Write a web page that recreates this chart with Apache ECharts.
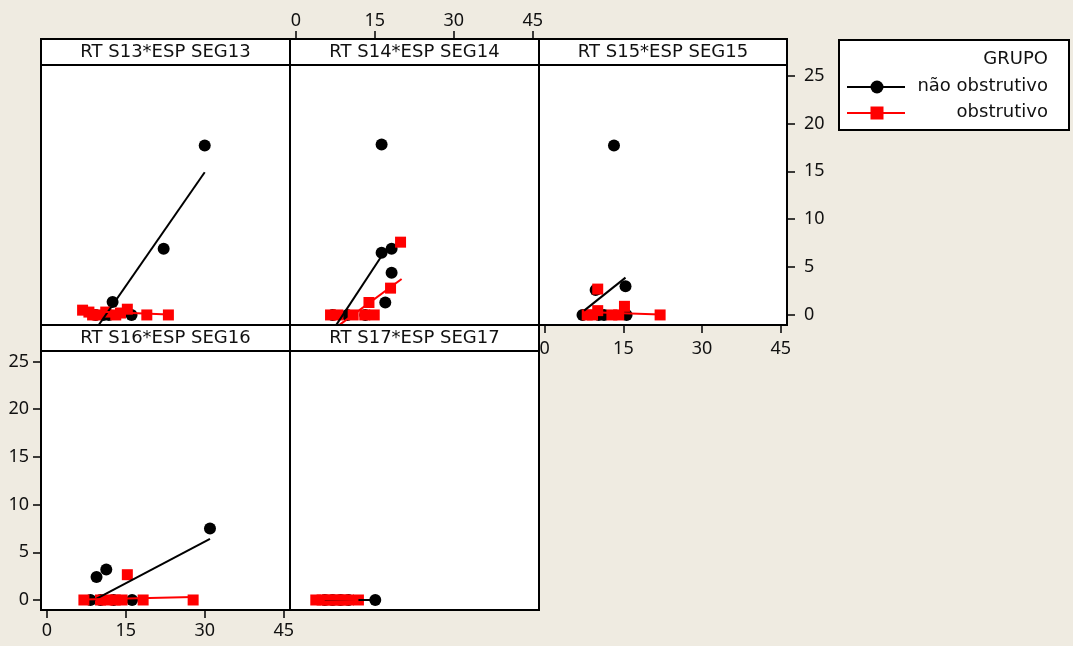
<!DOCTYPE html>
<html><head><meta charset="utf-8">
<script src="https://cdn.jsdelivr.net/npm/echarts@6/dist/echarts.min.js"></script>
<style>html,body{margin:0;padding:0;background:#EFEBE1;} #c{width:1073px;height:646px;}</style>
</head><body><div id="c"></div>
<script>
const panelTitles = ['RT S13*ESP SEG13','RT S14*ESP SEG14','RT S15*ESP SEG15','RT S16*ESP SEG16','RT S17*ESP SEG17'];
const groupNames = ['não obstrutivo','obstrutivo'];
const legendTitle = 'GRUPO';
const xTickMin = 0, xTickMax = 45, xTickStep = 15;
const yTickMin = 0, yTickMax = 25, yTickStep = 5;

// SEG13
const nao13 = [[30.0,17.7],[22.2,6.9],[12.5,1.35],[16.1,0],[9.3,0],[10.8,0],[11.8,0]];
const obs13 = [[6.8,0.5],[8.0,0.3],[8.7,0],[9.6,0],[11.2,0.3],[13.1,0],[14.0,0.2],[15.3,0.6],[19.0,0],[23.1,0]];
const fitNao13 = [[9.3,-1.5],[30.0,14.9]];
const fitObs13 = [[6.8,0.4],[23.1,0.05]];
// SEG14
const nao14 = [[16.3,17.8],[16.3,6.5],[18.2,6.9],[18.2,4.4],[17.0,1.3],[9.8,0],[7.0,0],[13.2,0]];
const obs14 = [[19.9,7.6],[18.0,2.8],[13.9,1.3],[6.6,0],[8.0,0],[10.9,0],[13.1,0],[14.9,0]];
const fitNao14 = [[7.7,-1.04],[16.3,6.15]];
const fitObs14 = [[8.3,-1.04],[20.1,3.75]];
// SEG15
const nao15 = [[13.2,17.7],[15.4,3.0],[9.7,2.6],[7.2,0],[10.3,0],[11.3,0],[15.6,0]];
const obs15 = [[10.1,2.7],[15.2,0.9],[10.1,0.45],[8.1,0],[9.1,0],[12.8,0],[14.1,0],[22.0,0]];
const fitNao15 = [[7.5,0.45],[15.4,3.9]];
const fitObs15 = [[7.9,0.3],[22.0,0.05]];
// SEG16
const nao16 = [[31.0,7.5],[9.45,2.4],[11.3,3.2],[16.2,0],[8.3,0],[10.2,0],[12.7,0]];
const obs16 = [[15.3,2.65],[7.05,0],[10.2,0],[11.5,0],[13.0,0],[14.3,0],[18.3,0],[27.8,0]];
const fitNao16 = [[8.3,-0.2],[31.0,6.4]];
const fitObs16 = [[7.05,0.05],[27.8,0.3]];
// SEG17
const nao17 = [[5.5,0],[7.0,0],[8.5,0],[10.0,0],[15.1,0]];
const obs17 = [[3.8,0],[5.0,0],[6.0,0],[7.0,0],[8.0,0],[9.0,0],[10.0,0],[11.9,0]];
const fitNao17 = [[5.5,0],[15.1,0]];
const fitObs17 = [[3.8,0.05],[11.9,0]];

const naoAll = [nao13,nao14,nao15,nao16,nao17];
const obsAll = [obs13,obs14,obs15,obs16,obs17];
const fitNaoAll = [fitNao13,fitNao14,fitNao15,fitNao16,fitNao17];
const fitObsAll = [fitObs13,fitObs14,fitObs15,fitObs16,fitObs17];

const X_MIN = -1.1, X_MAX = 46.2, Y_MIN = -1.05, Y_MAX = 26.1;
const BLACK = '#000000', RED = '#FF0000';
const tickFont = {fontFamily:'"Noto Sans"', fontSize:18, color:'#111'};
const txtFont = '18px "DejaVu Sans"';

const gridBoxes = [
  {left:41, top:65, width:249, height:260},
  {left:290, top:65, width:249, height:260},
  {left:539, top:65, width:248, height:260},
  {left:41, top:351, width:249, height:259},
  {left:290, top:351, width:249, height:259}
];

const grids = [], xAxes = [], yAxes = [], series = [];
function hiddenAxis(gi, min, max) {
  return {type:'value', gridIndex:gi, show:false, min:min, max:max, splitLine:{show:false}, axisLine:{show:false, onZero:false}};
}
// data panels
gridBoxes.forEach((g, i) => {
  grids.push(Object.assign({show:true, backgroundColor:'#fff', borderColor:'#000', borderWidth:2}, g));
  xAxes.push(hiddenAxis(i, X_MIN, X_MAX));
  yAxes.push(hiddenAxis(i, Y_MIN, Y_MAX));
});

// axis-only grids aligned to the data scale of a panel
function tickAxis(gi, min, max, step, position, margin, offset) {
  return {type:'value', gridIndex:gi, min:min, max:max, interval:step, position:position, offset:offset || 0,
    splitLine:{show:false}, axisLine:{show:false, onZero:false},
    axisTick:{show:true, inside:false, length:8, lineStyle:{color:'#000', width:1.5}},
    axisLabel:Object.assign({margin:margin}, tickFont)};
}
function addXAxisFor(panel, position, margin, offset) {
  const g = gridBoxes[panel];
  const k = g.width / (X_MAX - X_MIN);
  const gi = grids.length;
  grids.push({show:false, left:g.left + (xTickMin - X_MIN) * k, width:(xTickMax - xTickMin) * k, top:g.top, height:g.height});
  xAxes.push(tickAxis(gi, xTickMin, xTickMax, xTickStep, position, margin, offset));
  yAxes.push(hiddenAxis(gi, 0, 1));
}
function addYAxisFor(panel, position, margin) {
  const g = gridBoxes[panel];
  const k = g.height / (Y_MAX - Y_MIN);
  const gi = grids.length;
  grids.push({show:false, left:g.left, width:g.width, top:g.top + (Y_MAX - yTickMax) * k, height:(yTickMax - yTickMin) * k});
  xAxes.push(hiddenAxis(gi, 0, 1));
  yAxes.push(tickAxis(gi, yTickMin, yTickMax, yTickStep, position, margin, 0));
}
addXAxisFor(1, 'top', 9, 26);
addXAxisFor(2, 'bottom', 15, 0);
addXAxisFor(3, 'bottom', 12, 0);
addYAxisFor(2, 'right', 17);
addYAxisFor(3, 'left', 12);

for (let i = 0; i < 5; i++) {
  series.push({type:'scatter', name:groupNames[0], xAxisIndex:i, yAxisIndex:i, data:naoAll[i],
    symbol:'circle', symbolSize:12, itemStyle:{color:BLACK, opacity:1}, silent:true});
  series.push({type:'line', name:groupNames[0]+' fit', xAxisIndex:i, yAxisIndex:i, data:fitNaoAll[i],
    showSymbol:false, symbol:'none', lineStyle:{color:BLACK, width:2}, clip:true, silent:true});
  series.push({type:'scatter', name:groupNames[1], xAxisIndex:i, yAxisIndex:i, data:obsAll[i],
    symbol:'rect', symbolSize:11, itemStyle:{color:RED, opacity:1}, silent:true});
  series.push({type:'line', name:groupNames[1]+' fit', xAxisIndex:i, yAxisIndex:i, data:fitObsAll[i],
    showSymbol:false, symbol:'none', lineStyle:{color:RED, width:2}, clip:true, silent:true});
}

const graphics = [];
gridBoxes.forEach((g, i) => {
  const sy = g.top - 26;
  graphics.push({type:'rect', shape:{x:g.left, y:sy, width:g.width, height:26},
    style:{fill:'#fff', stroke:'#000', lineWidth:2}, z:10});
  graphics.push({type:'text', x:g.left + g.width/2, y:sy + 13,
    style:{text:panelTitles[i], font:txtFont, fill:'#111', align:'center', verticalAlign:'middle'}, z:11});
});
// legend
graphics.push({type:'rect', shape:{x:839, y:40, width:230, height:90},
  style:{fill:'#fff', stroke:'#000', lineWidth:2}, z:10});
graphics.push({type:'text', x:1048, y:59, style:{text:legendTitle, font:txtFont, fill:'#111', align:'right', verticalAlign:'middle'}, z:11});
graphics.push({type:'line', shape:{x1:847, y1:87, x2:905, y2:87}, style:{stroke:BLACK, lineWidth:2}, z:11});
graphics.push({type:'circle', shape:{cx:877, cy:87, r:6.5}, style:{fill:BLACK}, z:12});
graphics.push({type:'text', x:1048, y:86, style:{text:groupNames[0], font:txtFont, fill:'#111', align:'right', verticalAlign:'middle'}, z:11});
graphics.push({type:'line', shape:{x1:847, y1:113, x2:905, y2:113}, style:{stroke:RED, lineWidth:2}, z:11});
graphics.push({type:'rect', shape:{x:870.5, y:106.5, width:13, height:13}, style:{fill:RED}, z:12});
graphics.push({type:'text', x:1048, y:112, style:{text:groupNames[1], font:txtFont, fill:'#111', align:'right', verticalAlign:'middle'}, z:11});

const chart = echarts.init(document.getElementById('c'), null, {renderer:'canvas'});
chart.setOption({
  backgroundColor:'#EFEBE1',
  animation:false,
  grid: grids,
  xAxis: xAxes,
  yAxis: yAxes,
  series: series,
  graphic: graphics
});
</script></body></html>
